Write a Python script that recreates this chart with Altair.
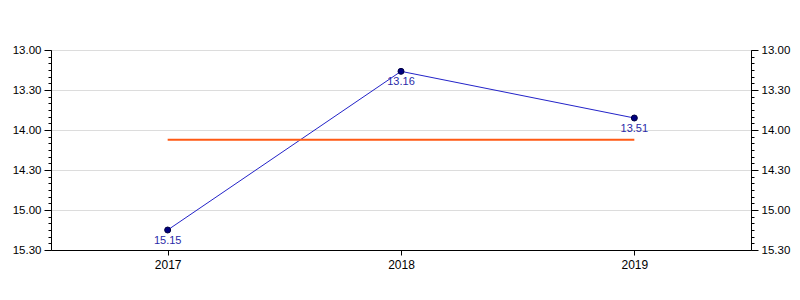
import altair as alt
import pandas as pd

years = ["2017", "2018", "2019"]
times = ["15.15", "13.16", "13.51"]
y_ticks = ["13.00", "13.30", "14.00", "14.30", "15.00", "15.30"]


def to_sec(s):
    m, sec = s.split(".")
    return int(m) * 60 + int(sec)


secs = [to_sec(t) for t in times]
df = pd.DataFrame({"year": years, "time": secs, "label": times})

major = [to_sec(t) for t in y_ticks]
minor = list(range(major[0], major[-1] + 1, 5))

fmt = "floor(datum.value/60) + '.' + (datum.value % 60 < 10 ? '0' : '') + (datum.value % 60)"
label_expr = f"datum.value % 30 === 0 ? {fmt} : ''"
is_major = "datum.value % 30 === 0"

yscale = alt.Scale(domain=[major[0], major[-1]], reverse=True, nice=False, zero=False)
xscale = alt.Scale(type="point", padding=0.5)
FONT = "Liberation Sans"


def yaxis(orient, grid):
    return alt.Axis(
        orient=orient, values=minor, labelExpr=label_expr, title=None,
        tickSize={"condition": {"test": is_major, "value": 7}, "value": 3},
        grid=grid,
        gridColor={"condition": {"test": is_major, "value": "#dcdcdc"}, "value": "transparent"},
        domainColor="black", tickColor="black", labelColor="black",
        labelFontSize=11.5, labelFont=FONT, labelPadding=3,
    )


xaxis = alt.Axis(title=None, labelAngle=0, tickSize=5, grid=False, domainColor="black",
                 tickColor="black", labelColor="black", labelFontSize=12, labelFont=FONT,
                 labelPadding=4)

base = alt.Chart(df)

line = base.mark_line(color="#2323c8", strokeWidth=1).encode(
    x=alt.X("year:N", scale=xscale, axis=xaxis, sort=years),
    y=alt.Y("time:Q", scale=yscale, axis=yaxis("left", True)),
)

mean_line = base.transform_joinaggregate(avg="mean(time)").mark_line(
    color="#ff5a14", strokeWidth=2
).encode(
    x=alt.X("year:N", scale=xscale, sort=years, title=None),
    y=alt.Y("avg:Q", scale=yscale, axis=yaxis("right", False)),
)

pts = base.mark_circle(size=36, color="#000080", opacity=1, stroke="#000040", strokeWidth=1).encode(
    x=alt.X("year:N", scale=xscale, sort=years, title=None),
    y=alt.Y("time:Q", scale=yscale, axis=None),
)

txt = base.mark_text(dy=11, color="#2a2aa8", fontSize=11, font=FONT).encode(
    x=alt.X("year:N", scale=xscale, sort=years, title=None),
    y=alt.Y("time:Q", scale=yscale, axis=None),
    text="label:N",
)

chart = alt.layer(line, mean_line, pts, txt).resolve_axis(y="independent").properties(
    width=700, height=200,
    padding={"left": 51, "top": 50, "right": 49, "bottom": 50},
    autosize=alt.AutoSizeParams(type="none"),
    background="white",
).configure_view(stroke="black", strokeWidth=1)

chart.save("out.html", embed_options={"renderer": "svg", "actions": False})
